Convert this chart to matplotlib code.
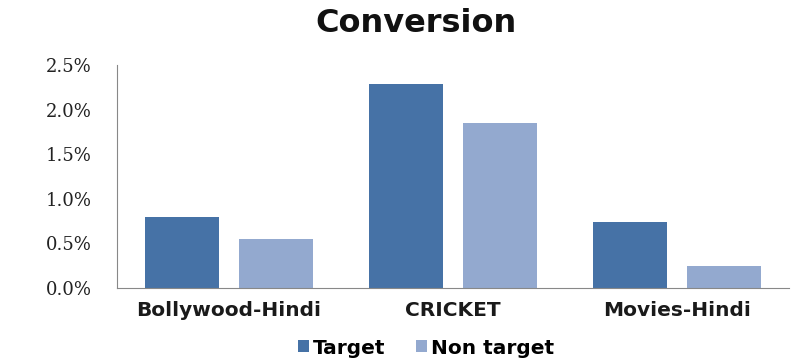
import numpy as np
from matplotlib import pyplot as plt

categories = ['Bollywood-Hindi', 'CRICKET', 'Movies-Hindi']
target = [0.80, 2.29, 0.74]
non_target = [0.55, 1.85, 0.25]
yticks = [0.0, 0.5, 1.0, 1.5, 2.0, 2.5]

fig = plt.figure(figsize=(7.97, 3.6), dpi=100)
ax = fig.add_axes([117/797, 1 - 288/360, 672/797, 223/360])

x = np.arange(len(categories))
w = 0.33
ax.bar(x - 0.21, target, w, color='#4672a6', label='Target')
ax.bar(x + 0.21, non_target, w, color='#93a9cf', label='Non target')

ax.set_xlim(-0.5, 2.5)
ax.set_ylim(0, 2.5)
ax.set_yticks(yticks)
ax.set_yticklabels(['%.1f%%' % v for v in yticks], family='DejaVu Serif', fontsize=13, color='#222222')
ax.set_xticks(x)
ax.set_xticklabels(categories, family='DejaVu Sans', fontweight='bold', fontsize=14.5, color='#1a1a1a')
ax.tick_params(length=0)
ax.tick_params(axis='y', pad=18)
ax.tick_params(axis='x', pad=9)

for s in ['top', 'right']:
    ax.spines[s].set_visible(False)
ax.spines['left'].set_color('#888888')
ax.spines['bottom'].set_color('#888888')

fig.text(416/797, 1 - 23/360, 'Conversion', ha='center', va='center',
         family='DejaVu Sans', fontweight='bold', fontsize=23, color='#111111')

fig.legend(loc='center', bbox_to_anchor=(426/797, 1 - 348/360), ncol=2, frameon=False,
           prop={'family': 'DejaVu Sans', 'weight': 'bold', 'size': 14.5},
           handlelength=0.55, handleheight=0.55, handletextpad=0.2, columnspacing=1.5)

fig.savefig('out.png', dpi=100)
